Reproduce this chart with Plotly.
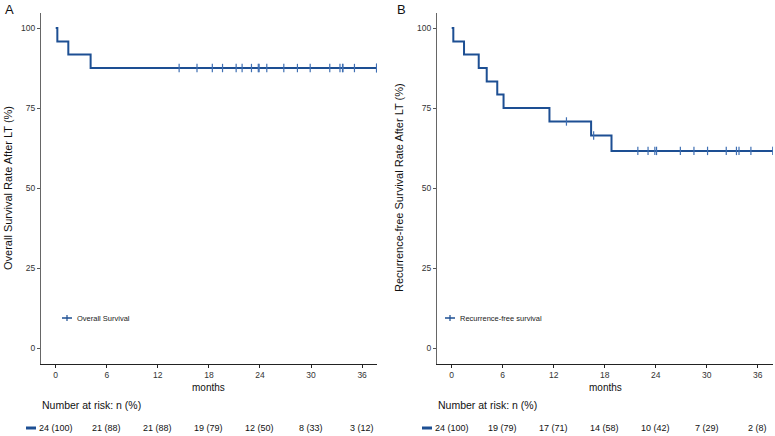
import numpy as np
import plotly.graph_objects as go

# ---------------- data ----------------
months_ticks = [0, 6, 12, 18, 24, 30, 36]
y_ticks = [0, 25, 50, 75, 100]

# Panel A: Overall survival
os_event_times = [0.19, 1.48, 4.1]
os_surv = [95.8, 91.7, 87.5]
os_censor_times = [14.5, 16.6, 18.4, 19.6, 21.2, 21.9, 23.0, 23.8, 23.9,
                   24.8, 26.8, 28.4, 29.9, 32.2, 33.4, 33.7, 33.75, 35.1,
                   37.7, 37.7, 37.7]
os_end = 37.7
os_risk = ["24 (100)", "21 (88)", "21 (88)", "19 (79)", "12 (50)", "8 (33)", "3 (12)"]

# Panel B: Recurrence-free survival
rfs_event_times = [0.19, 1.45, 3.18, 4.12, 5.36, 6.1, 11.5, 16.4, 18.8]
rfs_surv = [95.8, 91.7, 87.5, 83.3, 79.2, 75.0, 70.8, 66.4, 61.6]
rfs_censor_times = [13.5, 16.7, 21.9, 23.1, 23.9, 24.1, 26.9, 28.5, 30.1,
                    32.3, 33.5, 33.8, 35.2, 37.8, 37.8]
rfs_end = 37.8
rfs_risk = ["24 (100)", "19 (79)", "17 (71)", "14 (58)", "10 (42)", "7 (29)", "2 (8)"]

LINE = "#1d4f93"
CENS = "#3f6fb3"
FONT = "Liberation Sans, Arial, sans-serif"

W, H = 775, 436


def px(x):
    return x / W


def py(y):
    return 1 - y / H


fig = go.Figure()


def step_xy(ev, sv, end):
    xs = [0.0] + list(ev) + [end]
    ys = [100.0] + list(sv) + [sv[-1]]
    return xs, ys


def censor_y(ev, sv, ct):
    ev = np.array(ev)
    sv = np.array([100.0] + list(sv))
    idx = np.searchsorted(ev, np.array(ct), side="right")
    return sv[idx]


panels = [
    dict(ev=os_event_times, sv=os_surv, ct=os_censor_times, end=os_end, xa="x", ya="y"),
    dict(ev=rfs_event_times, sv=rfs_surv, ct=rfs_censor_times, end=rfs_end, xa="x2", ya="y2"),
]
for p in panels:
    xs, ys = step_xy(p["ev"], p["sv"], p["end"])
    fig.add_trace(go.Scatter(x=xs, y=ys, mode="lines", line=dict(color=LINE, width=2, shape="hv"),
                             xaxis=p["xa"], yaxis=p["ya"], showlegend=False, hoverinfo="skip"))
    cy = censor_y(p["ev"], p["sv"], p["ct"])
    fig.add_trace(go.Scatter(x=p["ct"], y=cy, mode="markers",
                             marker=dict(symbol="line-ns", size=6, line=dict(color=CENS, width=1.2)),
                             xaxis=p["xa"], yaxis=p["ya"], showlegend=False, hoverinfo="skip"))

# plot area geometry (pixels)
top_px, bot_px = 13, 364
A_left, A_right = 41, 377
B_left, B_right = 437, 773

axis_common = dict(showgrid=False, zeroline=False, ticks="outside", ticklen=3,
                   tickfont=dict(family=FONT, size=8.5, color="#333"), showline=True, linewidth=1)

fig.update_layout(
    width=W, height=H, margin=dict(l=0, r=0, t=0, b=0),
    paper_bgcolor="white", plot_bgcolor="white",
    xaxis=dict(domain=[px(A_left), px(A_right)], range=[-1.73, 37.75], tickvals=months_ticks,
               linecolor="#222", tickcolor="#222", anchor="y", **axis_common),
    yaxis=dict(domain=[py(bot_px), py(top_px)], range=[-5, 104.7], tickvals=y_ticks,
               linecolor="#666", tickcolor="#555", anchor="x", **axis_common),
    xaxis2=dict(domain=[px(B_left), px(B_right)], range=[-1.73, 37.8], tickvals=months_ticks,
                linecolor="#222", tickcolor="#222", anchor="y2", **axis_common),
    yaxis2=dict(domain=[py(bot_px), py(top_px)], range=[-5, 104.7], tickvals=y_ticks,
                linecolor="#666", tickcolor="#555", anchor="x2", **axis_common),
    showlegend=False,
)

ann = []
shapes = []


def text(x, y, s, size, anchor="center", angle=0, color="#111"):
    ann.append(dict(x=px(x), y=py(y), xref="paper", yref="paper", text=s, showarrow=False,
                    xanchor=anchor, yanchor="middle", textangle=angle,
                    font=dict(family=FONT, size=size, color=color)))


# panel letters
text(3, 10, "A", 13, anchor="left")
text(395, 10, "B", 13, anchor="left")

# y titles
text(8, 188, "Overall Survival Rate After LT (%)", 11, angle=-90)
text(399, 188, "Recurrence-free Survival Rate After LT (%)", 11, angle=-90)

# x titles
text(209, 387, "months", 10)
text(605, 387, "months", 10)

# number at risk
text(40, 405, "Number at risk: n (%)", 10.5, anchor="left")
text(436, 405, "Number at risk: n (%)", 10.5, anchor="left")

for i, t in enumerate(months_ticks):
    ann.append(dict(x=t, y=py(428), xref="x", yref="paper", text=os_risk[i], showarrow=False,
                    xanchor="center", yanchor="middle", font=dict(family=FONT, size=9, color="#111")))
    ann.append(dict(x=t, y=py(428), xref="x2", yref="paper", text=rfs_risk[i], showarrow=False,
                    xanchor="center", yanchor="middle", font=dict(family=FONT, size=9, color="#111")))

# risk table strata markers
for x0 in (26, 422):
    shapes.append(dict(type="line", xref="paper", yref="paper", x0=px(x0), x1=px(x0 + 10),
                       y0=py(428), y1=py(428), line=dict(color=LINE, width=3)))

# legends
for (x0, label) in ((62, "Overall Survival"), (445, "Recurrence-free survival")):
    shapes.append(dict(type="line", xref="paper", yref="paper", x0=px(x0), x1=px(x0 + 10),
                       y0=py(318), y1=py(318), line=dict(color=LINE, width=1.5)))
    shapes.append(dict(type="line", xref="paper", yref="paper", x0=px(x0 + 5), x1=px(x0 + 5),
                       y0=py(315), y1=py(321), line=dict(color=LINE, width=1.2)))
    text(x0 + 13, 318, label, 7.5, anchor="left", color="#222")

fig.update_layout(annotations=ann, shapes=shapes)
fig.write_html("out.html", config={"displayModeBar": False},
               post_script="document.body.style.margin='0';document.body.style.overflow='hidden';")
